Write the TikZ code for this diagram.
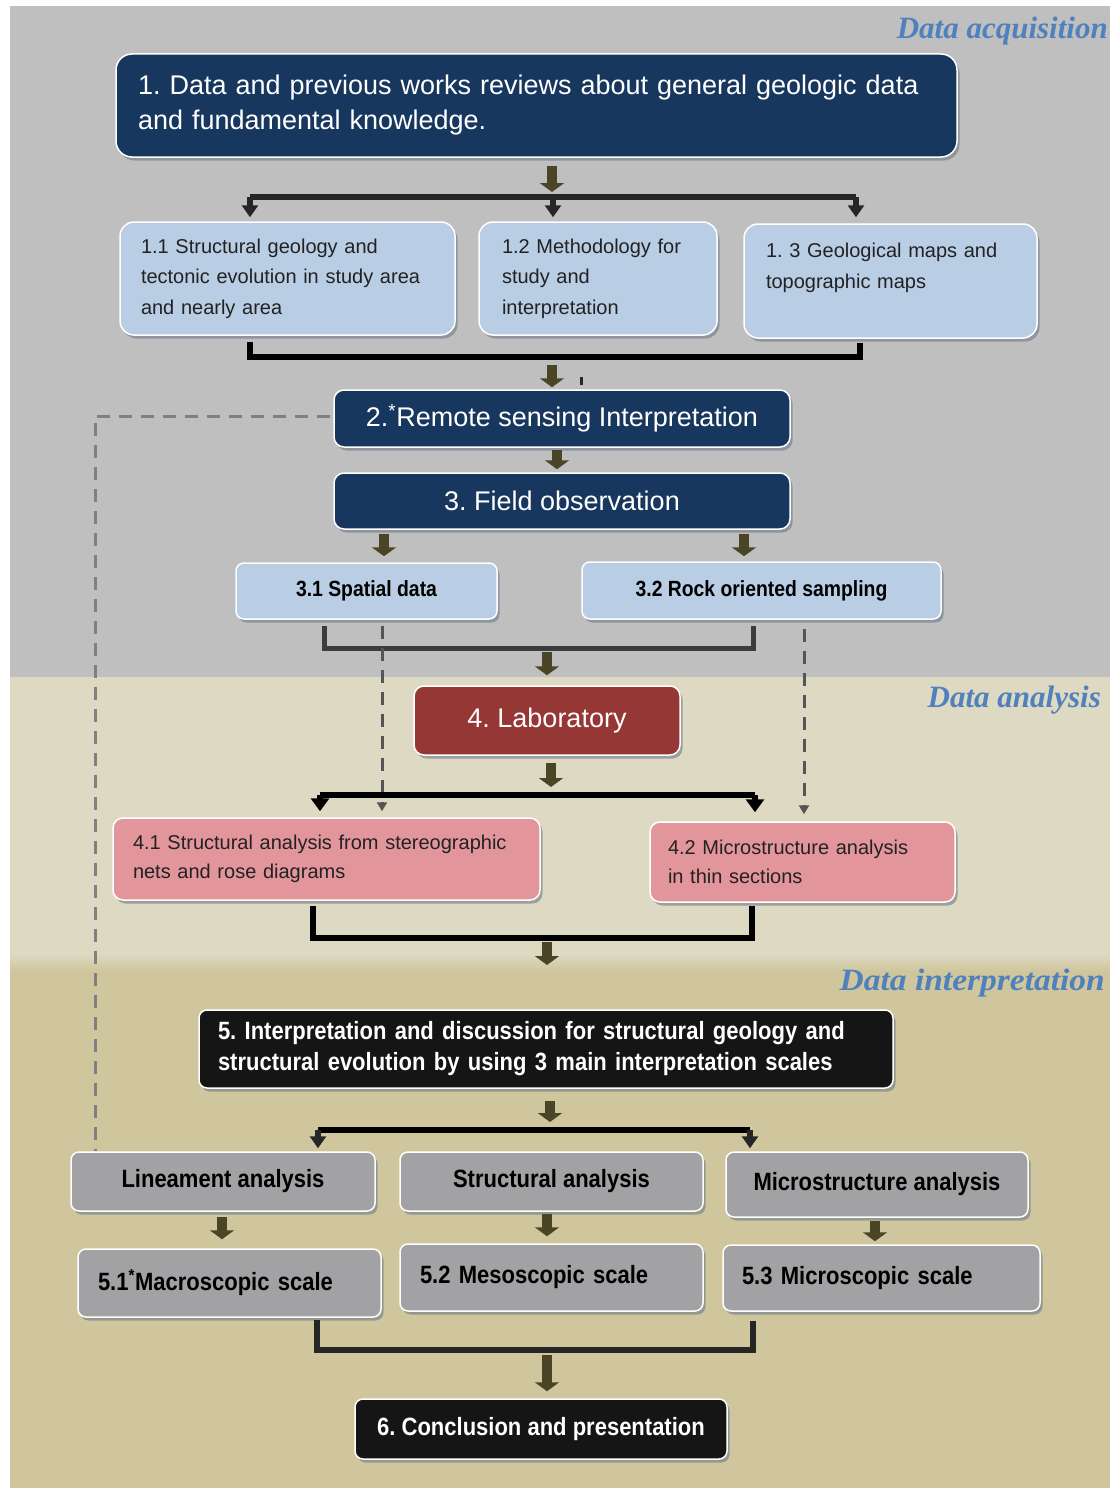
\documentclass[tikz,border=0pt]{standalone}
\usepackage{fontspec}
\usepackage{graphicx}
\setmainfont{Liberation Sans}
\newfontfamily\condb{Liberation Sans}[FakeStretch=0.88]
\newfontfamily\sectfont{Liberation Serif}
\usetikzlibrary{arrows.meta,shadows,calc}
\newcommand\fsz[2]{\fontsize{#1}{#2}\selectfont}
\definecolor{bgA}{HTML}{BFBFBF}
\definecolor{bgB}{HTML}{DDD9C3}
\definecolor{bgC}{HTML}{D0C69D}
\definecolor{navy}{HTML}{17375E}
\definecolor{lblue}{HTML}{B9CDE5}
\definecolor{lred}{HTML}{953735}
\definecolor{pinkc}{HTML}{E3959C}
\definecolor{blk}{HTML}{151515}
\definecolor{gbox}{HTML}{A2A2A5}
\definecolor{fatc}{HTML}{4B4527}
\definecolor{barc}{HTML}{262626}
\definecolor{barc2}{HTML}{3C3C3C}
\definecolor{dashc}{HTML}{808080}
\definecolor{dashd}{HTML}{555555}
\definecolor{sectc}{HTML}{4F81BD}
\definecolor{shadc}{HTML}{6F7A88}
\definecolor{txtd}{HTML}{222222}
\tikzset{
  box/.style={draw=white, line width=1.5pt, inner ysep=0pt,
    drop shadow={shadow xshift=2.5pt, shadow yshift=-3.5pt, fill=shadc, opacity=.6}},
  navybox/.style={box, fill=navy, text=white, rounded corners=10pt, font=\fsz{27}{32}, align=center},
  bluebox/.style={box, fill=lblue, text=txtd, rounded corners=14pt, font=\fsz{20}{30.5}, align=left},
  sbluebox/.style={box, fill=lblue, text=black, rounded corners=8pt, font=\condb\bfseries\fsz{22}{26}, align=center},
  redbox/.style={box, fill=lred, text=white, rounded corners=10pt, font=\fsz{27}{32}, align=center},
  pinkbox/.style={box, fill=pinkc, text=txtd, rounded corners=10pt, font=\fsz{20}{29}, align=left},
  blkbox/.style={box, fill=blk, text=white, rounded corners=8pt, font=\condb\bfseries\fsz{25}{31}},
  greybox/.style={box, fill=gbox, text=black, rounded corners=8pt, font=\condb\bfseries\fsz{25}{31}},
  sect/.style={text=sectc, font=\sectfont\bfseries\itshape\fsz{31}{36}, inner sep=0pt},
  fat/.style={draw=fatc, line width=10pt, -{Triangle[width=24pt,length=9pt]}},
  bar/.style={draw=barc, line width=5.5pt},
  tip/.style={-{Triangle[width=16pt,length=12pt]}},
  dsh/.style={draw=dashd, line width=3pt, dash pattern=on 13pt off 9pt},
  dtip/.style={-{Triangle[width=10pt,length=9pt]}}
}
\begin{document}
\frenchspacing
\begin{tikzpicture}[x=1pt,y=-1pt]
\useasboundingbox (0,0) rectangle (1110,1488);
\fill[white] (0,0) rectangle (1110,1488);
\fill[bgA] (10,6) rectangle (1110,677);
\fill[bgB] (10,677) rectangle (1110,955);
\fill[bgC] (10,970) rectangle (1110,1488);
\shade[top color=bgB, bottom color=bgC] (10,954) rectangle (1110,971);

% section labels
\node[sect, anchor=east] (la) at (1108,31) {Data acquisition};
\node[sect, anchor=east] (lb) at (1101,700) {Data analysis};
\node[sect, anchor=east] (lc) at (1105,983) {\scalebox{1.08}[1]{Data interpretation}};

% boxes
\node[navybox, rounded corners=16pt, minimum width=841pt, minimum height=103pt,
  text width=797pt, inner xsep=22pt, align=left, font=\fsz{27}{35}] (b1) at (536.5,105.5)
  {1. Data and previous works reviews about general geologic data\\and fundamental knowledge.};
\node[bluebox, minimum width=335pt, minimum height=113pt, text width=293pt, inner xsep=21pt] (b11) at (287.5,278.5)
  {1.1 Structural geology and\\tectonic evolution in study area\\and nearly area};
\node[bluebox, minimum width=238pt, minimum height=113pt, text width=192pt, inner xsep=23pt] (b12) at (598,278.5)
  {1.2 Methodology for\\study and\\interpretation};
\node[bluebox, minimum width=293pt, minimum height=114pt, text width=249pt, inner xsep=22pt] (b13) at (890.5,281)
  {1. 3 Geological maps and\\topographic maps\\\mbox{}};
\node[navybox, minimum width=456pt, minimum height=57pt] (b2) at (562,418.5)
  {2.\textsuperscript{*}Remote sensing Interpretation};
\node[navybox, minimum width=456pt, minimum height=56pt] (b3) at (562,501)
  {3. Field observation};
\node[sbluebox, minimum width=261pt, minimum height=56pt] (b31) at (366.5,591) {3.1 Spatial data};
\node[sbluebox, minimum width=359pt, minimum height=57pt] (b32) at (761.5,590.5) {3.2 Rock oriented sampling};
\node[redbox, minimum width=266pt, minimum height=69pt] (b4) at (547,720.5) {4. Laboratory};
\node[pinkbox, minimum width=427pt, minimum height=82pt, text width=387pt, inner xsep=20pt] (b41) at (326.5,859)
  {4.1 Structural analysis from stereographic\\nets and rose diagrams};
\node[pinkbox, minimum width=305pt, minimum height=80pt, text width=269pt, inner xsep=18pt] (b42) at (802.5,862)
  {4.2 Microstructure analysis\\in thin sections};
\node[blkbox, minimum width=694pt, minimum height=78pt, text width=656pt, inner xsep=19pt, align=left] (b5) at (546,1049)
  {5. Interpretation and discussion for structural geology and\\structural evolution by using 3 main interpretation scales};
\node[greybox, minimum width=304pt, minimum height=59pt, align=center] (lin) at (223,1181.5) {Lineament analysis};
\node[greybox, minimum width=303pt, minimum height=59pt, align=center] (str) at (551.5,1181.5) {Structural analysis};
\node[greybox, minimum width=302pt, minimum height=65pt, align=center] (mic) at (877,1184.5) {Microstructure analysis};
\node[greybox, minimum width=303pt, minimum height=68pt, text width=263pt, inner xsep=20pt, align=left] (s51) at (229.5,1283)
  {5.1\textsuperscript{*}Macroscopic scale};
\node[greybox, minimum width=303pt, minimum height=67pt, text width=263pt, inner xsep=20pt, align=left] (s52) at (551.5,1277.5)
  {5.2 Mesoscopic scale};
\node[greybox, minimum width=317pt, minimum height=66pt, text width=279pt, inner xsep=19pt, align=left] (s53) at (881.5,1278)
  {5.3 Microscopic scale};
\node[blkbox, minimum width=372pt, minimum height=60pt, align=center] (b6) at (541,1429) {6. Conclusion and presentation};

% long grey dashed feedback line
\draw[dsh, draw=dashc, shorten <=3pt] ($(b2.west)+(0,-2.5)$) -| ($(lin.north west)+(25,0)$);

% 1 -> 1.x
\coordinate (d1l) at (250,197);
\coordinate (d1m) at (553,197);
\coordinate (d1r) at (856,197);
\coordinate (f1) at (552,197);
\draw[fat, shorten <=8pt, shorten >=5pt] (b1.south -| f1) -- (f1);
\draw[bar] (d1l) -- (d1r);
\draw[bar, tip, shorten >=4pt] (d1l) -- (d1l |- b11.north);
\draw[bar, tip, shorten >=4pt] (d1m) -- (d1m |- b12.north);
\draw[bar, tip, shorten >=6pt] (d1r) -- (d1r |- b13.north);

% 1.x -> 2
\coordinate (m1l) at (250,357);
\coordinate (m1r) at (860,357);
\coordinate (m1c) at (552,357);
\draw[bar, draw=black, line width=6pt, shorten <=6pt, shorten >=4pt] (m1l |- b11.south) -- (m1l) -- (m1r) -- (m1r |- b13.south);
\draw[fat, shorten <=8pt, shorten >=2pt] (m1c) -- (m1c |- b2.north);
\draw[draw=barc, line width=3pt] ($(b2.north)+(19,-4)$) -- ++(0,-8);

% 2 -> 3
\draw[fat, shorten <=2pt, shorten >=3pt] ($(b2.south)+(-5,0)$) -- ($(b3.north)+(-5,0)$);

% 3 -> 3.x
\coordinate (f31) at (384,0);
\coordinate (f32) at (744,0);
\draw[fat, shorten <=4pt, shorten >=6pt] (b3.south -| f31) -- (b31.north -| f31);
\draw[fat, shorten <=4pt, shorten >=5pt] (b3.south -| f32) -- (b32.north -| f32);

% 3.x -> 4
\coordinate (m3l) at (324,648);
\coordinate (m3r) at (753,648);
\coordinate (m3c) at (547,648);
\draw[bar, draw=barc2, line width=5pt, shorten <=6pt, shorten >=6pt] (m3l |- b31.south) -- (m3l) -- (m3r) -- (m3r |- b32.south);
\draw[fat, shorten <=4pt, shorten >=10pt] (m3c) -- (m3c |- b4.north);

% dashed 3.x -> 4.x
\coordinate (ds1) at ($(b31.south)+(15.5,0)$);
\coordinate (ds2) at ($(b32.south)+(42.5,0)$);
\draw[dsh, dtip, shorten <=6pt, shorten >=6pt] (ds1) -- (ds1 |- b41.north);
\draw[dsh, dtip, shorten <=9pt, shorten >=7pt] (ds2) -- (ds2 |- b42.north);

% 4 -> 4.x
\coordinate (d4l) at (320,795);
\coordinate (d4r) at (755,795);
\coordinate (d4c) at (551,795);
\draw[fat, shorten <=7pt, shorten >=8pt] (b4.south -| d4c) -- (d4c);
\draw[bar, draw=black, line width=6pt] (d4l) -- (d4r);
\draw[bar, draw=black, line width=6pt, -{Triangle[width=18pt,length=13pt]}, shorten >=6pt] (d4l) -- (d4l |- b41.north);
\draw[bar, draw=black, line width=6pt, -{Triangle[width=18pt,length=13pt]}, shorten >=9pt] (d4r) -- (d4r |- b42.north);

% 4.x -> 5
\coordinate (m4l) at (313,938);
\coordinate (m4r) at (752,938);
\coordinate (m4c) at (547,938);
\coordinate (e4) at (547,965);
\draw[bar, draw=black, line width=6pt, shorten <=5pt, shorten >=3pt] (m4l |- b41.south) -- (m4l) -- (m4r) -- (m4r |- b42.south);
\draw[fat, shorten <=4pt] (m4c) -- (e4);

% 5 -> analyses
\coordinate (d5l) at (318,1130);
\coordinate (d5r) at (750,1130);
\coordinate (d5c) at (550,1130);
\draw[fat, shorten <=12pt, shorten >=8pt] (b5.south -| d5c) -- (d5c);
\draw[bar, draw=black] (d5l) -- (d5r);
\draw[bar, draw=barc, tip, shorten >=3pt] (d5l) -- (d5l |- lin.north);
\draw[bar, draw=barc, tip, shorten >=3pt] (d5r) -- (d5r |- mic.north);

% analyses -> scales
\draw[fat, shorten <=5pt, shorten >=9pt] ($(lin.south)+(-1,0)$) -- ($(s51.north)+(-7.5,0)$);
\draw[fat, shorten <=2pt, shorten >=7pt] ($(str.south)+(-4.5,0)$) -- ($(s52.north)+(-4.5,0)$);
\draw[fat, shorten <=3pt, shorten >=3pt] ($(mic.south)+(-2,0)$) -- ($(s53.north)+(-6.5,0)$);

% scales -> 6
\coordinate (m5l) at (317,1350);
\coordinate (m5r) at (753,1350);
\coordinate (m5c) at (547,1350);
\draw[bar, draw=barc, line width=6pt, shorten <=2pt, shorten >=9pt] (m5l |- s51.south) -- (m5l) -- (m5r) -- (m5r |- s53.south);
\draw[fat, shorten <=5pt, shorten >=7pt] (m5c) -- (m5c |- b6.north);
\end{tikzpicture}
\end{document}
